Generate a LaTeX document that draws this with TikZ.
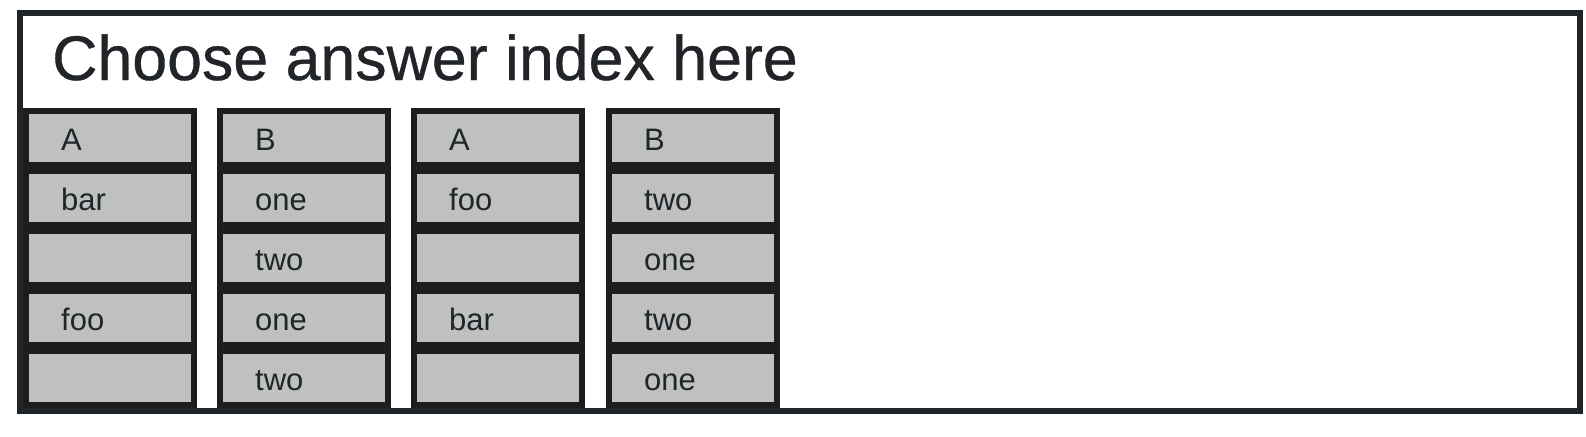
\documentclass[tikz,border=0pt]{standalone}
\usepackage{fontspec}
\usepackage{graphicx}
\setmainfont{Liberation Sans}
\newfontfamily\titlefont[FakeBold=0.6]{Liberation Sans}
\definecolor{framec}{HTML}{212529}
\definecolor{colc}{HTML}{1D1D1D}
\definecolor{cellc}{HTML}{BFC1C0}
\definecolor{txtc}{HTML}{212529}
\tikzset{
  cellbox/.style={fill=cellc, draw=none, inner sep=0pt, minimum width=162pt, minimum height=48pt, anchor=north west},
  colbox/.style={fill=colc, draw=none, inner sep=0pt, minimum width=174pt, minimum height=300pt, anchor=north west},
  celltext/.style={anchor=base west, inner sep=0pt, text=txtc, font=\fontsize{31}{36}\selectfont},
  titletext/.style={anchor=base west, inner sep=0pt, text=txtc, font=\titlefont\fontsize{63}{72}\selectfont},
  framebox/.style={draw=framec, line width=6pt, fill=white}
}
\begin{document}
\begin{tikzpicture}[x=1pt,y=-1pt]
\useasboundingbox[fill=white] (0,0) rectangle (1586,436);
\draw[framebox] (20,13) rectangle (1580,411);
\node[titletext] (title) at (52,80) {\scalebox{0.995}[1]{Choose answer index here}};
% columns
\foreach \c/\x in {1/23,2/217,3/411,4/606}{
  \node[colbox] (col\c) at (\x,108) {};
}
% cells
\foreach \c/\x/\la/\lb/\lc/\ld/\le in {1/23/A/bar//foo/, 2/217/B/one/two/one/two, 3/411/A/foo//bar/, 4/606/B/two/one/two/one}{
  \foreach \r/\t in {1/\la,2/\lb,3/\lc,4/\ld,5/\le}{
    \node[cellbox] (cell\c\r) at (\x+6,{114+60*(\r-1)}) {};
    \node[celltext] (txt\c\r) at ([shift={(32,36)}]cell\c\r.north west) {\t};
  }
}
\end{tikzpicture}
\end{document}
